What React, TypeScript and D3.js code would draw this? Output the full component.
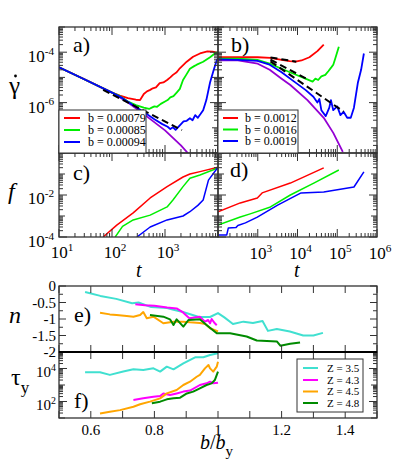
import React from "react";
import * as d3 from "d3";

type P = [number, number];

const FONT = '"Liberation Serif", "DejaVu Serif", "Times New Roman", serif';

// ---------- panel a: t vs gamma-dot ----------
const aRed: P[] = [[10,2.5e-5],[32,7.9e-6],[100,2.5e-6],[141,1.9e-6],[200,1.5e-6],[282,1.3e-6],[339,1.26e-6],[398,2.2e-6],[457,2.8e-6],[525,3.2e-6],[589,3.7e-6],[676,4.0e-6],[794,5.9e-6],[933,6.3e-6],[1096,7.9e-6],[1259,1.0e-5],[1413,1.26e-5],[1660,1.6e-5],[1905,2.3e-5],[2570,4.2e-5],[3388,6.6e-5],[4571,8.9e-5],[6310,1.07e-4],[7943,1.05e-4],[10000,9.3e-5]];
const aGreen: P[] = [[10,2.5e-5],[32,7.9e-6],[100,2.5e-6],[141,1.8e-6],[200,1.1e-6],[282,7.9e-7],[398,6.3e-7],[501,5.6e-7],[562,6.3e-7],[631,7.1e-7],[708,6.8e-7],[832,8.9e-7],[1000,1.1e-6],[1122,1.26e-6],[1259,1.6e-6],[1445,1.8e-6],[1660,2.5e-6],[1905,3.5e-6],[2188,7.9e-6],[2512,1.26e-5],[2951,2.2e-5],[3548,2.8e-5],[3981,3.2e-5],[5248,4.2e-5],[7079,6.3e-5],[8710,8.9e-5],[10000,1.0e-4]];
const aBlue: P[] = [[10,2.5e-5],[32,7.9e-6],[100,2.5e-6],[158,1.5e-6],[251,7.9e-7],[398,4.2e-7],[631,2.2e-7],[891,1.4e-7],[1122,1.1e-7],[1259,8.9e-8],[1413,1.05e-7],[1585,8.3e-8],[1905,1.26e-7],[2239,1.8e-7],[2570,1.9e-7],[2951,2.4e-7],[3311,2.0e-7],[3715,3.2e-7],[4169,2.5e-7],[4677,3.5e-7],[5248,5.0e-7],[6026,1.26e-6],[7079,6.3e-6],[8318,2.0e-5],[9550,5.0e-5],[10000,5.6e-5]];
const aPurple: P[] = [[10,2.5e-5],[30,8.5e-6],[100,2.5e-6],[200,1.0e-6],[398,3.5e-7],[1000,7.9e-8],[1995,2.0e-8],[2692,1.0e-8]];
const aDashed: P[][] = [[[68,3.2e-6],[2089,8.1e-8]]];
const aLegend = ["b = 0.00079", "b = 0.00085", "b = 0.00094"];

// ---------- panel b ----------
const bRed: P[] = [[100,6.3e-5],[316,6.3e-5],[1000,6.3e-5],[2089,6.0e-5],[3981,5.0e-5],[6310,4.4e-5],[8913,4.2e-5],[12589,4.7e-5],[19953,6.3e-5],[31623,1.1e-4],[45709,2.0e-4]];
const bGreen: P[] = [[100,5.6e-5],[316,5.5e-5],[977,5.0e-5],[1995,3.5e-5],[3981,2.2e-5],[7943,1.4e-5],[15849,8.9e-6],[23988,6.8e-6],[28184,8.9e-6],[33113,7.9e-6],[39811,1.1e-5],[50119,1.26e-5],[60256,1.8e-5],[70795,2.5e-5],[79433,3.2e-5],[89125,5.6e-5],[109648,1.66e-4]];
const bBlue: P[] = [[100,5.2e-5],[316,5.0e-5],[977,4.5e-5],[1995,3.2e-5],[3981,1.6e-5],[7943,7.1e-6],[15849,3.2e-6],[25119,1.7e-6],[31623,1.0e-6],[35481,1.4e-6],[39811,5.0e-7],[51286,2.9e-7],[63096,6.3e-7],[69183,1.26e-6],[79433,5.0e-7],[100000,7.1e-7],[120226,3.2e-7],[144544,4.3e-7],[177828,2.5e-7],[218776,2.5e-7],[263027,6.3e-7],[331131,6.3e-6],[398107,2.0e-5],[467735,8.9e-5]];
const bPurple: P[] = [[100,4.8e-5],[316,4.7e-5],[1000,3.5e-5],[1995,2.0e-5],[3981,8.9e-6],[6607,5.0e-6],[17783,1.26e-6],[45709,2.5e-7],[79433,6.3e-8],[138038,1.1e-8]];
const bDashed: P[][] = [
  [[2089,6.2e-5],[9333,4.2e-5]],
  [[2089,5.1e-5],[19055,7.9e-6]],
  [[2089,4.3e-5],[144544,4.4e-7]],
];
const bLegend = ["b = 0.0012", "b = 0.0016", "b = 0.0019"];

// ---------- panel c: t vs f ----------
const cRed: P[] = [[68,1e-4],[123,3.7e-4],[251,1.4e-3],[525,7.2e-3],[1096,2.5e-2],[2188,7.2e-2],[2951,0.1],[4571,0.13],[10000,0.21]];
const cGreen: P[] = [[115,1e-4],[158,3.2e-4],[251,6.5e-4],[525,1.1e-3],[1096,2.7e-3],[1413,5.8e-3],[2188,2.5e-2],[2951,6.3e-2],[4571,8.9e-2],[10000,0.195]];
const cBlue: P[] = [[295,1e-4],[525,3.0e-4],[1096,6.5e-4],[2188,1.0e-3],[2951,1.6e-3],[4169,3.2e-3],[5248,5.8e-3],[6607,5.1e-2],[10000,0.21]];

// ---------- panel d ----------
const dRed: P[] = [[100,1.6e-3],[363,4.2e-3],[977,7.2e-3],[1288,1.26e-2],[6607,3.7e-2],[45709,0.195]];
const dGreen: P[] = [[100,3.7e-4],[363,8.9e-4],[646,1.26e-3],[2089,2.7e-3],[6607,1.0e-2],[25704,3.7e-2],[109648,0.155]];
const dBlue: P[] = [[100,1.26e-4],[166,1.26e-4],[182,2.7e-4],[282,2.8e-4],[316,3.5e-4],[490,4.7e-4],[977,8.9e-4],[3162,3.3e-3],[12303,1.26e-2],[45709,1.4e-2],[263027,2.4e-2],[467735,0.126]];

// ---------- panel e: b/b_y vs n ----------
const eCyan: P[] = [[0.582,-0.18],[0.63,-0.3],[0.68,-0.39],[0.73,-0.52],[0.75,-0.5],[0.79,-0.64],[0.84,-0.67],[0.86,-0.72],[0.89,-0.79],[0.94,-0.94],[0.975,-0.94],[1.0,-0.82],[1.02,-0.95],[1.047,-1.15],[1.08,-1.08],[1.11,-1.12],[1.14,-1.06],[1.157,-1.36],[1.185,-1.3],[1.226,-1.38],[1.268,-1.5],[1.3,-1.5],[1.33,-1.42]];
const eMagenta: P[] = [[0.74,-0.55],[0.77,-0.58],[0.8,-0.6],[0.84,-0.65],[0.87,-0.68],[0.89,-0.8],[0.91,-0.98],[0.943,-0.93],[0.959,-1.08],[0.969,-1.03],[0.975,-1.13],[0.98,-1.0],[0.99,-1.13],[0.996,-1.19]];
const eOrange: P[] = [[0.629,-0.81],[0.66,-0.86],[0.681,-0.88],[0.713,-0.91],[0.734,-0.93],[0.755,-0.88],[0.765,-0.79],[0.776,-0.98],[0.797,-0.93],[0.828,-1.13],[0.86,-1.08],[0.891,-1.08],[0.912,-1.1],[0.943,-1.12],[0.96,-1.15],[0.975,-1.28],[1.0,-1.38]];
const eGreen: P[] = [[0.786,-0.88],[0.828,-0.93],[0.849,-1.01],[0.86,-1.18],[0.87,-1.01],[0.891,-1.23],[0.907,-1.03],[0.943,-1.01],[0.964,-1.18],[0.996,-1.43],[1.038,-1.43],[1.09,-1.53],[1.122,-1.65],[1.185,-1.68],[1.196,-1.81],[1.227,-1.75],[1.258,-1.71]];

// ---------- panel f: b/b_y vs tau_y ----------
const fCyan: P[] = [[0.582,5900],[0.629,5900],[0.66,4100],[0.702,6500],[0.734,8900],[0.765,8100],[0.797,10200],[0.818,6500],[0.839,12900],[0.86,8900],[0.891,20400],[0.928,47900],[0.954,47900],[0.975,66000],[1.0,83000]];
const fMagenta: P[] = [[0.734,123],[0.765,155],[0.797,195],[0.818,214],[0.828,309],[0.849,245],[0.87,309],[0.891,398],[0.912,457],[0.943,1000],[0.964,1260],[0.975,1585],[0.985,1260],[1.0,1380]];
const fOrange: P[] = [[0.629,19],[0.66,24],[0.692,30],[0.734,48],[0.755,68],[0.786,98],[0.818,155],[0.839,309],[0.87,500],[0.891,1000],[0.912,1585],[0.933,3160],[0.943,4070],[0.959,10200],[0.97,16200],[0.975,10200],[0.985,6500],[0.996,12900],[1.0,25700]];
const fGreen: P[] = [[0.792,78],[0.818,98],[0.839,135],[0.86,155],[0.881,170],[0.902,309],[0.922,398],[0.943,631],[0.964,1000],[0.98,1260],[0.99,2000],[1.0,6500]];
const zLegend = ["Z = 3.5", "Z = 4.3", "Z = 4.5", "Z = 4.8"];

const topColors = ["#ff0000", "#00ee00", "#0000ff"];
const purple = "#9400d3";
const zColors = ["#40e0d0", "#ff00ff", "#ffa500", "#008b00"];

// ---------- layout ----------
const L = 59, M = 218, R = 377;
const yTop = 27, yAC = 153, yCB = 237, eTop = 286, eBot = 352, fBot = 418;

const xA = d3.scaleLog().domain([1e1, 1e4]).range([L, M]);
const xB = d3.scaleLog().domain([1e2, 1e6]).range([M, R]);
const yG = d3.scaleLog().domain([1e-8, 1e-3]).range([yAC, yTop]);
const yF = d3.scaleLog().domain([1e-4, 1]).range([yCB, yAC]);
const xE = d3.scaleLinear().domain([0.5, 1.5]).range([L, R]);
const yN = d3.scaleLinear().domain([-2, 0]).range([eBot, eTop]);
const yT = d3.scaleLog().domain([1e1, 1e5]).range([fBot, eBot]);

type Tk = { v: number; len: number };
function logTicks(lo: number, hi: number, labeled: number[]): Tk[] {
  const out: Tk[] = [];
  for (let k = lo; k < hi; k++) {
    for (let m = 1; m < 10; m++) {
      out.push({ v: m * Math.pow(10, k), len: m === 1 ? (labeled.includes(k) ? 8 : 6) : 4 });
    }
  }
  out.push({ v: Math.pow(10, hi), len: labeled.includes(hi) ? 8 : 6 });
  return out;
}
function linTicks(lo: number, hi: number, step: number, majorStep: number): Tk[] {
  const out: Tk[] = [];
  const n = Math.round((hi - lo) / step);
  for (let i = 0; i <= n; i++) {
    const v = lo + i * step;
    const r = v / majorStep;
    out.push({ v, len: Math.abs(r - Math.round(r)) < 1e-6 ? 7 : 4 });
  }
  return out;
}

function Frame(props: {
  x0: number; x1: number; y0: number; y1: number;
  xs: (v: number) => number; ys: (v: number) => number;
  xt: Tk[]; yt: Tk[];
}) {
  const { x0, x1, y0, y1, xs, ys, xt, yt } = props;
  const stroke = "#333";
  const lines: any[] = [];
  xt.forEach((t, i) => {
    const x = xs(t.v);
    if (x < x0 - 0.5 || x > x1 + 0.5) return;
    lines.push(<line key={"xb" + i} x1={x} x2={x} y1={y1} y2={y1 - t.len} />);
    lines.push(<line key={"xt" + i} x1={x} x2={x} y1={y0} y2={y0 + t.len} />);
  });
  yt.forEach((t, i) => {
    const y = ys(t.v);
    if (y < y0 - 0.5 || y > y1 + 0.5) return;
    lines.push(<line key={"yl" + i} x1={x0} x2={x0 + t.len} y1={y} y2={y} />);
    lines.push(<line key={"yr" + i} x1={x1} x2={x1 - t.len} y1={y} y2={y} />);
  });
  return (
    <g stroke={stroke} strokeWidth={1}>
      {lines}
      <rect x={x0} y={y0} width={x1 - x0} height={y1 - y0} fill="none" strokeWidth={1.3} />
    </g>
  );
}

function Series(props: { data: P[]; xs: any; ys: any; color: string; width?: number; dash?: string; clip: string }) {
  const gen = d3.line<P>().x((d) => props.xs(d[0])).y((d) => props.ys(d[1]));
  return (
    <path d={gen(props.data) || ""} fill="none" stroke={props.color} strokeWidth={props.width ?? 1.8}
      strokeDasharray={props.dash} strokeLinejoin="round" clipPath={`url(#${props.clip})`} />
  );
}

function Pow(props: { x: number; y: number; exp: string; anchor?: string; size?: number }) {
  const s = props.size ?? 17;
  return (
    <text x={props.x} y={props.y} textAnchor={props.anchor ?? "middle"} fontSize={s} style={{ fontFamily: FONT }} fill="#000">
      10<tspan dy={-s * 0.42} fontSize={s * 0.66}>{props.exp}</tspan>
    </text>
  );
}

function Legend(props: { x: number; y: number; w: number; h: number; items: string[]; colors: string[]; rowY: number[]; lx: number; lw: number; tx: number; fs: number }) {
  return (
    <g>
      <rect x={props.x} y={props.y} width={props.w} height={props.h} fill="#fff" stroke="#333" strokeWidth={1} />
      {props.items.map((s, i) => (
        <g key={s}>
          <line x1={props.lx} x2={props.lx + props.lw} y1={props.rowY[i]} y2={props.rowY[i]} stroke={props.colors[i]} strokeWidth={2} />
          <text x={props.tx} y={props.rowY[i] + props.fs * 0.35} fontSize={props.fs} style={{ fontFamily: FONT }}>{s}</text>
        </g>
      ))}
    </g>
  );
}

export default function App() {
  const gammaT = logTicks(-8, -3, [-4, -6]);
  const fT = logTicks(-4, 0, [-2, -4]);
  const tA = logTicks(1, 4, [1, 2, 3]);
  const tB = logTicks(2, 6, [3, 4, 5, 6]);
  const bbT = linTicks(0.5, 1.5, 0.1, 0.1);
  const nT = linTicks(-2, 0, 0.25, 0.5);
  const tauT = logTicks(1, 5, [2, 4]);

  return (
    <svg width={397} height={466} style={{ position: "absolute", left: 0, top: 0, background: "#fff", fontFamily: FONT }}>
      <defs>
        <clipPath id="ca"><rect x={L} y={yTop} width={M - L} height={yAC - yTop} /></clipPath>
        <clipPath id="cb"><rect x={M} y={yTop} width={R - M} height={yAC - yTop} /></clipPath>
        <clipPath id="cc"><rect x={L} y={yAC} width={M - L} height={yCB - yAC} /></clipPath>
        <clipPath id="cd"><rect x={M} y={yAC} width={R - M} height={yCB - yAC} /></clipPath>
        <clipPath id="ce"><rect x={L} y={eTop} width={R - L} height={eBot - eTop} /></clipPath>
        <clipPath id="cf"><rect x={L} y={eBot} width={R - L} height={fBot - eBot} /></clipPath>
      </defs>
      <rect x={0} y={0} width={397} height={466} fill="#fff" />

      {/* panel a */}
      <Series data={aPurple} xs={xA} ys={yG} color={purple} clip="ca" />
      <Series data={aRed} xs={xA} ys={yG} color={topColors[0]} clip="ca" />
      <Series data={aGreen} xs={xA} ys={yG} color={topColors[1]} clip="ca" />
      <Series data={aBlue} xs={xA} ys={yG} color={topColors[2]} clip="ca" />
      {aDashed.map((d, i) => <Series key={i} data={d} xs={xA} ys={yG} color="#000" width={2} dash="7,4" clip="ca" />)}
      {/* panel b */}
      <Series data={bPurple} xs={xB} ys={yG} color={purple} clip="cb" />
      <Series data={bRed} xs={xB} ys={yG} color={topColors[0]} clip="cb" />
      <Series data={bGreen} xs={xB} ys={yG} color={topColors[1]} clip="cb" />
      <Series data={bBlue} xs={xB} ys={yG} color={topColors[2]} clip="cb" />
      {bDashed.map((d, i) => <Series key={i} data={d} xs={xB} ys={yG} color="#000" width={2} dash="7,4" clip="cb" />)}
      {/* panel c */}
      <Series data={cRed} xs={xA} ys={yF} color={topColors[0]} width={1.5} clip="cc" />
      <Series data={cGreen} xs={xA} ys={yF} color={topColors[1]} width={1.5} clip="cc" />
      <Series data={cBlue} xs={xA} ys={yF} color={topColors[2]} width={1.5} clip="cc" />
      {/* panel d */}
      <Series data={dRed} xs={xB} ys={yF} color={topColors[0]} width={1.5} clip="cd" />
      <Series data={dGreen} xs={xB} ys={yF} color={topColors[1]} width={1.5} clip="cd" />
      <Series data={dBlue} xs={xB} ys={yF} color={topColors[2]} width={1.5} clip="cd" />
      {/* panel e */}
      {[eCyan, eMagenta, eOrange, eGreen].map((d, i) => <Series key={i} data={d} xs={xE} ys={yN} color={zColors[i]} width={2} clip="ce" />)}
      {/* panel f */}
      {[fCyan, fMagenta, fOrange, fGreen].map((d, i) => <Series key={i} data={d} xs={xE} ys={yT} color={zColors[i]} width={2} clip="cf" />)}

      <Frame x0={L} x1={M} y0={yTop} y1={yAC} xs={xA} ys={yG} xt={tA} yt={gammaT} />
      <Frame x0={M} x1={R} y0={yTop} y1={yAC} xs={xB} ys={yG} xt={tB} yt={gammaT} />
      <Frame x0={L} x1={M} y0={yAC} y1={yCB} xs={xA} ys={yF} xt={tA} yt={fT} />
      <Frame x0={M} x1={R} y0={yAC} y1={yCB} xs={xB} ys={yF} xt={tB} yt={fT} />
      <Frame x0={L} x1={R} y0={eTop} y1={eBot} xs={xE} ys={yN} xt={bbT} yt={nT} />
      <Frame x0={L} x1={R} y0={eBot} y1={fBot} xs={xE} ys={yT} xt={bbT} yt={tauT} />
      <line x1={L} x2={R} y1={eBot} y2={eBot} stroke="#000" strokeWidth={1.8} />

      {/* legends */}
      <Legend x={L} y={110} w={87} h={43} items={aLegend} colors={topColors} rowY={[118, 130, 142]} lx={64} lw={16} tx={88} fs={12} />
      <Legend x={M} y={110} w={80} h={43} items={bLegend} colors={topColors} rowY={[118, 129.5, 141]} lx={223} lw={15} tx={245} fs={12} />
      <Legend x={297} y={359} w={66} h={53} items={zLegend} colors={zColors} rowY={[368, 380, 391.5, 403]} lx={303} lw={15} tx={327} fs={11} />

      {/* panel letters */}
      <g style={{ fontFamily: FONT }} fontSize={22} fill="#000">
        <text x={73} y={52}>a)</text>
        <text x={231} y={52}>b)</text>
        <text x={73} y={180}>c)</text>
        <text x={230} y={177}>d)</text>
        <text x={74} y={322}>e)</text>
        <text x={74} y={408}>f)</text>
      </g>

      {/* y tick labels */}
      <Pow x={54} y={yG(1e-4) + 10} exp="-4" anchor="end" />
      <Pow x={54} y={yG(1e-6) + 10} exp="-6" anchor="end" />
      <Pow x={54} y={yF(1e-2) + 9} exp="-2" anchor="end" />
      <Pow x={54} y={yF(1e-4) + 10} exp="-4" anchor="end" />
      <Pow x={56} y={yT(1e4) + 8.5} exp="4" anchor="end" size={15} />
      <Pow x={56} y={yT(1e2) + 8.5} exp="2" anchor="end" size={15} />
      <g style={{ fontFamily: FONT }} fontSize={15} textAnchor="end">
        {[0, -0.5, -1, -1.5, -2].map((v) => (
          <text key={v} x={56} y={yN(v) + 5}>{String(v)}</text>
        ))}
      </g>

      {/* x tick labels */}
      {[1e1, 1e2, 1e3].map((v, i) => <Pow key={v} x={xA(v) + 3} y={258} exp={String(i + 1)} />)}
      {[1e3, 1e4, 1e5, 1e6].map((v, i) => <Pow key={v} x={xB(v) + 3} y={259} exp={String(i + 3)} />)}
      <g style={{ fontFamily: FONT }} fontSize={15} textAnchor="middle">
        {[0.6, 0.8, 1.0, 1.2, 1.4].map((v) => (
          <text key={v} x={xE(v)} y={435}>{v === 1 ? "1" : String(v)}</text>
        ))}
      </g>

      {/* axis titles */}
      <g style={{ fontFamily: FONT }} fill="#000">
        <text x={9} y={94} fontSize={25}>γ</text>
        <circle cx={15.5} cy={76} r={1.4} fill="#000" />
        <text x={8} y={199} fontSize={24} fontStyle="italic">f</text>
        <text x={136} y={277} fontSize={20} fontStyle="italic">t</text>
        <text x={294} y={277} fontSize={20} fontStyle="italic">t</text>
        <text x={9} y={323} fontSize={24} fontStyle="italic">n</text>
        <text x={11} y={385} fontSize={24}>τ<tspan dy={8} fontSize={17}>y</tspan></text>
        <text x={200} y={449} fontSize={20}><tspan fontStyle="italic">b</tspan>/<tspan fontStyle="italic">b</tspan><tspan dy={7} fontSize={15}>y</tspan></text>
      </g>
    </svg>
  );
}
